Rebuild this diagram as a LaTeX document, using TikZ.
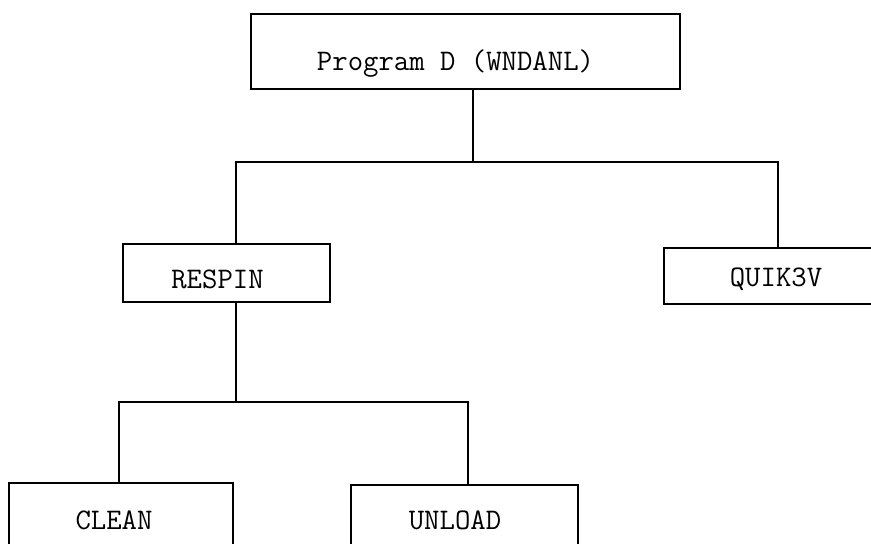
\documentclass[tikz,border=0pt]{standalone}
\usepackage{fontspec}
\begin{document}
\begin{tikzpicture}[x=1bp,y=-1bp,
  every node/.style={inner sep=0pt},
  box/.style={draw=black, line width=1.8bp, rectangle,
    font=\ttfamily\fontsize{30}{34}\selectfont\addfontfeature{FakeBold=1.5},
    text depth=0pt},
  link/.style={draw=black, line width=1.8bp, line cap=rect}]
  % page frame
  \useasboundingbox[fill=white] (0,0) rectangle (871,544);
  \clip (0,0) rectangle (871,544);

  % program boxes (text shifted with trailing space and text height)
  \node[box, minimum width=429bp, minimum height=75bp, text height=39bp]
    (prog) at (465.5,51.5) {Program D (WNDANL)\hspace*{20bp}};
  \node[box, minimum width=207bp, minimum height=58bp, text height=30bp]
    (respin) at (226.5,273) {RESPIN\hspace*{18bp}};
  \node[box, minimum width=224bp, minimum height=56bp, text height=22bp]
    (quik) at (776,276) {QUIK3V};
  \node[box, minimum width=224bp, minimum height=74bp, text height=18bp]
    (clean) at (121,520) {CLEAN\hspace*{14bp}};
  \node[box, minimum width=227bp, minimum height=70bp, text height=18bp]
    (unload) at (464.5,520) {UNLOAD\hspace*{19bp}};

  % junction points of the tree
  \coordinate (j1) at (473,162);
  \coordinate (j1l) at (236,162);
  \coordinate (j1r) at (778,162);
  \coordinate (j2) at (236,402);
  \coordinate (j2l) at (119,402);
  \coordinate (j2r) at (468,402);

  % connectors
  \draw[link] (prog.south -| j1) -- (j1);
  \draw[link] (respin.north -| j1l) -- (j1l) -- (j1r) -- (quik.north -| j1r);
  \draw[link] (respin.south -| j2) -- (j2);
  \draw[link] (clean.north -| j2l) -- (j2l) -- (j2r) -- (unload.north -| j2r);
\end{tikzpicture}
\end{document}
